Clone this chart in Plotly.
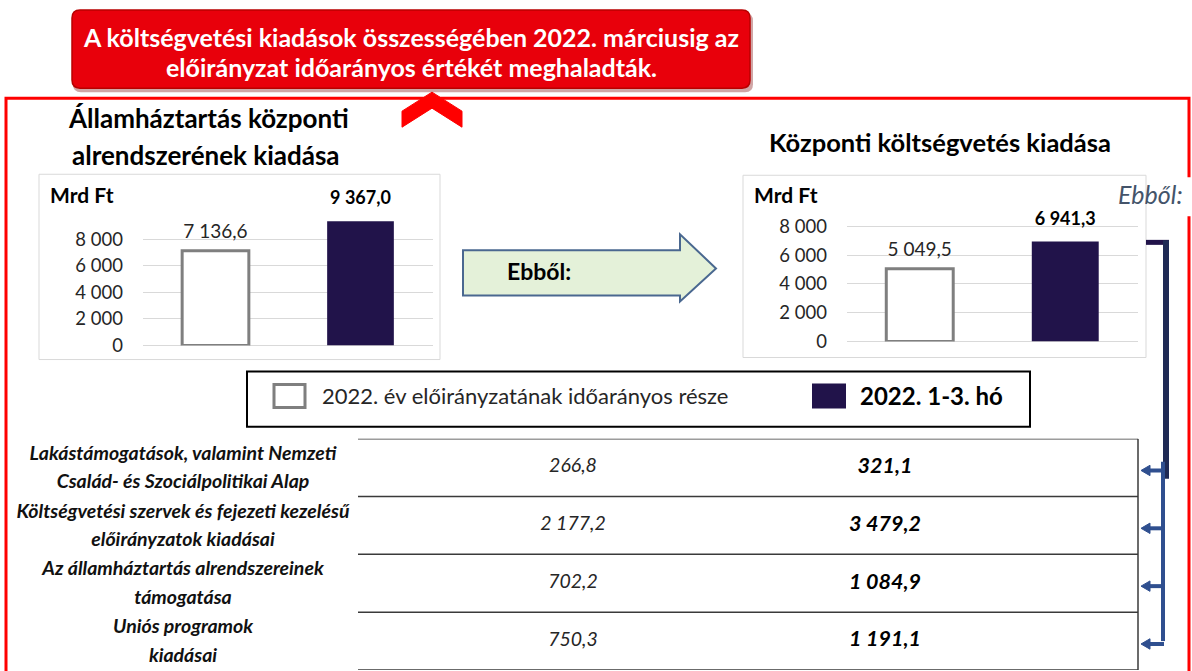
import plotly.graph_objects as go

W, H = 1192, 671          # design coordinate system (pixels of the reference)
FIG_H = 682               # figure height (the page is photographed slightly squeezed)

# ---------------- data ----------------
headline_lines = ["A költségvetési kiadások összességében 2022. márciusig az",
                  "előirányzat időarányos értékét meghaladták."]
left_title_lines = ["Államháztartás központi", "alrendszerének kiadása"]
right_title = "Központi költségvetés kiadása"
unit_label = "Mrd Ft"
series_names = ["2022. év előirányzatának időarányos része", "2022. 1-3. hó"]
plan_values = [7136.6, 5049.5]      # [left chart, right chart]
actual_values = [9367.0, 6941.3]    # [left chart, right chart]
y_ticks = [0, 2000, 4000, 6000, 8000]
arrow_label = "Ebből:"
row_label_line1 = ["Lakástámogatások, valamint Nemzeti",
                   "Költségvetési szervek és fejezeti kezelésű",
                   "Az államháztartás alrendszereinek",
                   "Uniós programok"]
row_label_line2 = ["Család- és Szociálpolitikai Alap",
                   "előirányzatok kiadásai",
                   "támogatása",
                   "kiadásai"]
row_plan = [266.8, 2177.2, 702.2, 750.3]
row_actual = [321.1, 3479.2, 1084.9, 1191.1]


def hu(v):
    return f"{v:,.1f}".replace(",", " ").replace(".", ",")


FONT = "Lato"
DARK = "#21134a"
GREY = "#7f7f7f"
GRID = "#d9d9d9"


def pxx(x):
    return x / W


def pxy(y):
    return 1 - y / H


fig = go.Figure()

# ---------------- bar charts ----------------
charts = [
    dict(xa="x", ya="y", x0=143, x1=433, yz=345, y8=239, yt=188),
    dict(xa="x2", ya="y2", x0=847, x1=1138, yz=341, y8=226, yt=194),
]
for k, c in enumerate(charts):
    fig.add_trace(go.Bar(
        x=[series_names[0]], y=[plan_values[k]], xaxis=c["xa"], yaxis=c["ya"], width=0.46,
        marker=dict(color="white", line=dict(color=GREY, width=3)),
        hoverinfo="skip", showlegend=False))
    fig.add_trace(go.Bar(
        x=[series_names[1]], y=[actual_values[k]], xaxis=c["xa"], yaxis=c["ya"], width=0.46,
        marker=dict(color=DARK, line=dict(width=0)),
        hoverinfo="skip", showlegend=False))
    # value labels above the bars (invisible anchor markers set the gap)
    fig.add_trace(go.Scatter(
        x=[series_names[0]], y=[plan_values[k]], xaxis=c["xa"], yaxis=c["ya"],
        mode="markers+text", texttemplate="%{y:,.1f}", textposition="top center",
        marker=dict(size=12, color="rgba(0,0,0,0)"),
        textfont=dict(family=FONT, size=19, color="#262626"),
        cliponaxis=False, hoverinfo="skip", showlegend=False))
    fig.add_trace(go.Scatter(
        x=[series_names[1]], y=[actual_values[k]], xaxis=c["xa"], yaxis=c["ya"],
        mode="markers+text", texttemplate="%{y:,.1f}", textposition="top center",
        marker=dict(size=18, color="rgba(0,0,0,0)"),
        textfont=dict(family=FONT, size=18, color="#000000", weight="bold"),
        cliponaxis=False, hoverinfo="skip", showlegend=False))

layout_axes = {}
for k, c in enumerate(charts):
    sx = "" if k == 0 else str(k + 1)
    layout_axes["xaxis" + sx] = dict(
        domain=[pxx(c["x0"]), pxx(c["x1"])], type="category", categoryarray=series_names,
        range=[-0.5, 1.5], showticklabels=False, showgrid=False, zeroline=False,
        showline=False, ticks="", anchor=c["ya"], fixedrange=True)
    layout_axes["yaxis" + sx] = dict(
        domain=[pxy(c["yz"]), pxy(c["yt"])],
        range=[0, (c["yz"] - c["yt"]) / (c["yz"] - c["y8"]) * 8000],
        tickvals=y_ticks, tickformat=",d", ticks="",
        tickfont=dict(family=FONT, size=18.5, color="#262626"),
        gridcolor=GRID, gridwidth=1, zeroline=True, zerolinecolor=GRID, zerolinewidth=1,
        showline=False, anchor=c["xa"], ticklabelstandoff=19, fixedrange=True)

# ---------------- table (rows on their own axis) ----------------
rows = list(range(len(row_plan)))
LBL = dict(family=FONT, size=19.5, color="#111111", weight="bold", style="italic")
fig.add_trace(go.Scatter(
    x=[183] * len(rows), y=[r - 0.22 for r in rows], text=row_label_line1, mode="text",
    textfont=LBL, xaxis="x4", yaxis="y4", hoverinfo="skip", showlegend=False, cliponaxis=False))
fig.add_trace(go.Scatter(
    x=[183] * len(rows), y=[r + 0.27 for r in rows], text=row_label_line2, mode="text",
    textfont=LBL, xaxis="x4", yaxis="y4", hoverinfo="skip", showlegend=False, cliponaxis=False))
fig.add_trace(go.Scatter(
    x=[573] * len(rows), y=rows, text=[hu(v) for v in row_plan], mode="text",
    textfont=dict(family=FONT, size=19.5, color="#262626", style="italic"),
    xaxis="x4", yaxis="y4", hoverinfo="skip", showlegend=False, cliponaxis=False))
fig.add_trace(go.Scatter(
    x=[885] * len(rows), y=rows, text=[hu(v) for v in row_actual], mode="text",
    textfont=dict(family=FONT, size=21.5, color="#000000", weight="bold", style="italic"),
    xaxis="x4", yaxis="y4", hoverinfo="skip", showlegend=False, cliponaxis=False))

layout_axes["xaxis3"] = dict(domain=[0, 1], range=[0, W], visible=False, anchor="y3", fixedrange=True)
layout_axes["yaxis3"] = dict(domain=[0, 1], range=[H, 0], visible=False, anchor="x3", fixedrange=True)
layout_axes["xaxis4"] = dict(domain=[0, 1], range=[0, W], visible=False, anchor="y4", fixedrange=True)
layout_axes["yaxis4"] = dict(domain=[pxy(669), pxy(438)], range=[len(rows) - 0.5, -0.5],
                             visible=False, anchor="x4", fixedrange=True)

# ---------------- decorations ----------------
shapes = []


def P(**kw):
    d = dict(xref="x3", yref="y3", layer="above")
    d.update(kw)
    shapes.append(d)


# red outer frame
P(type="rect", x0=6, y0=98, x1=1189, y1=700, line=dict(color="#ff0000", width=3), fillcolor="rgba(0,0,0,0)")
# red chevron
P(type="path", path="M 402,111 L 432,92 L 462,111 L 462,127 L 432,108 L 402,127 Z",
  fillcolor="#ff0000", line=dict(color="#ff0000", width=1))
# headline callout (shadow + body)
P(type="path", path="M 81,13 L 745,13 Q 753,13 753,21 L 753,84 Q 753,92 745,92 L 81,92 Q 73,92 73,84 L 73,21 Q 73,13 81,13 Z",
  fillcolor="rgba(120,0,0,0.35)", line=dict(width=0))
P(type="path", path="M 80,10 L 742,10 Q 750,10 750,18 L 750,80 Q 750,88 742,88 L 80,88 Q 72,88 72,80 L 72,18 Q 72,10 80,10 Z",
  fillcolor="#e8000b", line=dict(color="#b80000", width=1.5))
# chart boxes
P(type="rect", x0=39, y0=174, x1=440, y1=359, line=dict(color=GRID, width=1))
P(type="rect", x0=743, y0=175, x1=1146, y1=357, line=dict(color=GRID, width=1))
# block arrow "Ebből:"
P(type="path", path="M 463,250 L 680,250 L 680,234 L 716,268 L 680,301 L 680,295 L 463,295 Z",
  fillcolor="#e4f1d9", line=dict(color="#4a6890", width=2))
# white patch behind italic "Ebből:"
P(type="rect", x0=1147, y0=177, x1=1195, y1=216, fillcolor="white", line=dict(width=0))
# legend box
P(type="rect", x0=247, y0=371, x1=1030, y1=426, line=dict(color="#000000", width=2), fillcolor="white")
P(type="rect", x0=274, y0=384, x1=305, y1=407, line=dict(color=GREY, width=3), fillcolor="white")
P(type="rect", x0=812, y0=383, x1=846, y1=408, line=dict(width=0), fillcolor=DARK)
# table lines
for r in range(len(rows) + 1):
    shapes.append(dict(type="line", xref="x3", yref="y4", x0=358, x1=1138, y0=r - 0.5, y1=r - 0.5,
                       line=dict(color="#3a3a3a", width=1.5), layer="above"))
shapes.append(dict(type="line", xref="x3", yref="y4", x0=1138, x1=1138, y0=-0.5, y1=len(rows) - 0.5,
                   line=dict(color="#3a3a3a", width=1.5), layer="above"))
# bracket from the dark bar down to the table rows
BLUE = "#2f4f8f"
P(type="line", x0=1146, x1=1169, y0=242, y1=242, line=dict(color=DARK, width=5))
P(type="line", x0=1166, x1=1166, y0=240, y1=478, line=dict(color="#1f2a55", width=6))
shapes.append(dict(type="line", xref="x3", yref="y4", x0=1163, x1=1163, y0=-0.1, y1=len(rows) - 1 + 0.0,
                   line=dict(color=BLUE, width=4), layer="above"))
for r in rows:
    yc = r + 0.05
    shapes.append(dict(type="line", xref="x3", yref="y4", x0=1148, x1=1164, y0=yc, y1=yc,
                       line=dict(color=BLUE, width=4), layer="above"))
    shapes.append(dict(type="path", xref="x3", yref="y4",
                       path=f"M 1141,{yc} L 1150,{yc - 0.09} L 1150,{yc + 0.09} Z",
                       fillcolor=BLUE, line=dict(color=BLUE, width=1), layer="above"))

ann = []


def A(text, x, y, size, color="#000000", xanchor="center", bold=False, italic=False, **kw):
    ann.append(dict(text=text, x=x, y=y, xref="x3", yref="y3", xanchor=xanchor, yanchor="middle",
                    showarrow=False,
                    font=dict(family=FONT, size=size, color=color,
                              weight="bold" if bold else "normal",
                              style="italic" if italic else "normal"), **kw))


A(headline_lines[0], 411, 37, 25, color="white", bold=True)
A(headline_lines[1], 411, 67, 25, color="white", bold=True)
A(left_title_lines[0], 208, 118, 26, bold=True)
A(left_title_lines[1], 206, 155, 26, bold=True)
A(right_title, 940, 142, 25.5, bold=True)
A(unit_label, 48, 194, 21, xanchor="left", bold=True)
A(unit_label, 752, 194, 21, xanchor="left", bold=True)
A(arrow_label, 539, 271, 23, bold=True)
A(arrow_label, 1116, 194, 25, color="#44546a", xanchor="left", italic=True)
A(series_names[0], 320, 395, 22, color="#262626", xanchor="left")
A(series_names[1], 858, 395, 24, xanchor="left", bold=True)

fig.update_layout(
    width=W, height=FIG_H, margin=dict(l=0, r=0, t=0, b=0),
    paper_bgcolor="white", plot_bgcolor="rgba(0,0,0,0)",
    separators=", ", barmode="overlay", showlegend=False,
    font=dict(family=FONT, color="#000000"),
    shapes=shapes, annotations=ann, **layout_axes)

post = ("document.documentElement.style.margin='0';document.documentElement.style.padding='0';"
        "document.body.style.margin='0';document.body.style.padding='0';"
        "document.body.style.overflow='hidden';")
fig.write_html("out.html", config={"displayModeBar": False}, post_script=post)
